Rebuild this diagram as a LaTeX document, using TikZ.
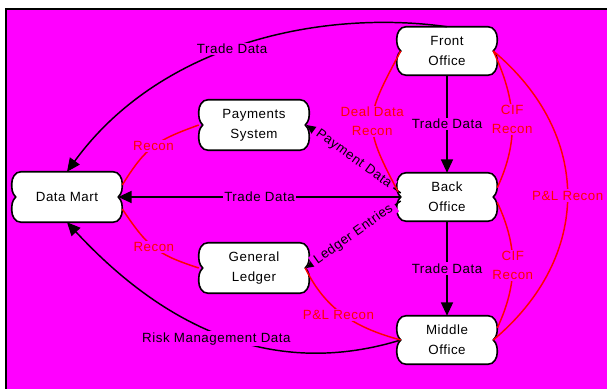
\documentclass[tikz,border=0pt]{standalone}
\usepackage{fontspec}
\setmainfont{Liberation Sans}[LetterSpace=4.0]
\usetikzlibrary{arrows.meta}
\pgfdeclarelayer{back}
\pgfdeclarelayer{shapes}
\pgfsetlayers{back,shapes,main}
\definecolor{bgmag}{RGB}{255,0,255}
\tikzset{
    box/.style={rectangle, inner sep=0pt, minimum width=75pt, minimum height=36pt,
        align=center, font=\fontsize{10}{15}\selectfont},
    widebox/.style={box, minimum width=82.5pt, minimum height=37.5pt},
    boneline/.style={draw=black, fill=white, line width=1.2pt},
    flow/.style={line width=1.1pt, -{Triangle[length=10pt,width=9pt]}},
    recon/.style={draw=red, line width=1.1pt},
    lbl/.style={fill=bgmag, inner sep=1pt, align=center, font=\fontsize{10}{14.25}\selectfont},
    rlbl/.style={lbl, text=red}
}

\begin{document}
\begin{tikzpicture}[x=0.75pt, y=0.75pt]
    \useasboundingbox (0,0) rectangle (607,389);
    % systems
    \node[box] (fo) at (447,338) {Front\\Office};
    \node[box] (bo) at (447,192) {Back\\Office};
    \node[box] (mo) at (447,49) {Middle\\Office};
    \node[widebox] (dm) at (67,192) {Data Mart};
    \node[widebox] (ps) at (254,264) {Payments\\System};
    \node[widebox] (gl) at (254,121) {General\\Ledger};

    % data flows
    \draw[flow] (fo.north) .. controls (320,380) and (160,345) .. (dm.north)
        node[lbl, pos=0.53] {Trade Data};
    \draw[flow] (fo.south) -- (bo.north) node[lbl, midway] {Trade Data};
    \draw[flow] (bo.south) -- (mo.north) node[lbl, midway] {Trade Data};
    \draw[flow] ([xshift=3pt]bo.west) -- ([xshift=-3pt]dm.east) node[lbl, midway] {Trade Data};
    \draw[flow] ([xshift=3pt,yshift=3pt]bo.west) -- ([xshift=-2pt]ps.east)
        node[lbl, midway, sloped, inner xsep=3pt] {Payment Data};
    \draw[flow] ([xshift=3pt,yshift=-3pt]bo.west) -- ([xshift=-2pt]gl.east)
        node[lbl, midway, sloped, inner xsep=3pt] {Ledger Entries};
    \draw[flow] ([xshift=3pt]mo.west) .. controls (290,15) and (180,45) .. (dm.south)
        node[lbl, pos=0.555, yshift=-4.5pt] {Risk Management Data};

    % reconciliations
    \draw[recon] (ps.west) to[out=200, in=58, looseness=1.2] node[rlbl] {Recon} ([yshift=9pt]dm.east);
    \draw[recon] ([yshift=-9pt]dm.east) to[out=-56, in=162, looseness=1.2] node[rlbl] {Recon} (gl.west);
    \draw[recon] ([xshift=3pt]fo.west) to[out=242, in=118, looseness=1.4]
        node[rlbl] {Deal Data\\Recon} ([xshift=1pt,yshift=4pt]bo.west);
    \draw[recon] ([xshift=-3pt]fo.east) to[out=-65, in=65] node[rlbl] {CIF\\Recon} ([yshift=7pt]bo.east);
    \draw[recon] ([yshift=-4pt]bo.east) to[out=-65, in=65] node[rlbl] {CIF\\Recon} ([yshift=9pt]mo.east);
    \draw[recon] ([xshift=-3pt]fo.east) to[out=-40, in=40, looseness=1.15]
        node[rlbl] {P\&L Recon} ([xshift=-3pt]mo.east);
    \draw[recon] ([xshift=-3pt]gl.east) to[out=-64, in=165] node[rlbl, xshift=-4pt] {P\&L Recon} ([xshift=3pt]mo.west);

    \begin{pgfonlayer}{shapes}
    \foreach \n in {fo,bo,mo,dm,ps,gl}
        \draw[boneline] ([xshift=7pt]\n.north west) -- ([xshift=-7pt]\n.north east)
            to[out=0,in=90] ([yshift=-9pt]\n.north east)
            to[out=-90,in=45] ([xshift=-3pt]\n.east)
            to[out=-45,in=90] ([yshift=9pt]\n.south east)
            to[out=-90,in=0] ([xshift=-7pt]\n.south east)
            -- ([xshift=7pt]\n.south west)
            to[out=180,in=-90] ([yshift=9pt]\n.south west)
            to[out=90,in=-135] ([xshift=3pt]\n.west)
            to[out=135,in=-90] ([yshift=-9pt]\n.north west)
            to[out=90,in=180] ([xshift=7pt]\n.north west) -- cycle;
    \end{pgfonlayer}

    \begin{pgfonlayer}{back}
    \fill[bgmag] (6,0) rectangle (607,380);
    \draw[line width=1.5pt] (6,0) -- (6,380) -- (607,380);
    \end{pgfonlayer}
\end{tikzpicture}
\end{document}
